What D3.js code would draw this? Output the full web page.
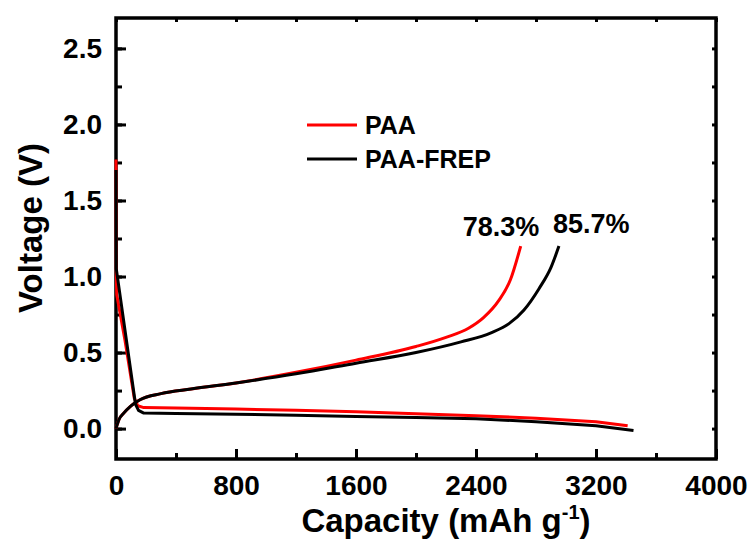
<!DOCTYPE html>
<html>
  <head>
    <meta charset="UTF-8" />
    <title>Voltage profiles</title>
    <style>
      body { margin: 0; background: #fff; }
      svg text { font-family: "Liberation Sans", Arial, sans-serif; font-weight: bold; fill: #000; }
    </style>
  </head>
  <body>
    <svg width="753" height="542"></svg>
    <script src="https://d3js.org/d3.v7.min.js"></script>
    <script>
      // series: [capacity mAh/g, voltage V]
      var paaDischarge = [[0, 1.77], [2, 1.0], [5, 0.88], [60, 0.58], [122, 0.2], [145, 0.15], [185, 0.138],
        [400, 0.136], [800, 0.128], [1200, 0.12], [1600, 0.11], [2000, 0.098], [2400, 0.085],
        [2800, 0.068], [3200, 0.045], [3411, 0.018]];
      var paaCharge = [[0, 0], [20, 0.06], [50, 0.1], [100, 0.15], [160, 0.19], [300, 0.23], [500, 0.26],
        [800, 0.3], [1200, 0.37], [1600, 0.45], [2000, 0.54], [2200, 0.6], [2350, 0.66], [2450, 0.73],
        [2550, 0.84], [2630, 0.98], [2698, 1.2]];
      var frepDischarge = [[0, 1.7], [2, 1.05], [130, 0.16], [150, 0.12], [185, 0.102], [400, 0.1],
        [800, 0.095], [1200, 0.088], [1600, 0.08], [2000, 0.073], [2400, 0.065], [2800, 0.045],
        [3200, 0.018], [3450, -0.012]];
      var frepCharge = [[0, 0], [20, 0.06], [50, 0.1], [100, 0.15], [160, 0.19], [300, 0.23], [500, 0.26],
        [800, 0.3], [1200, 0.36], [1600, 0.43], [2000, 0.5], [2300, 0.57], [2500, 0.63], [2620, 0.69],
        [2720, 0.78], [2820, 0.92], [2900, 1.06], [2953, 1.2]];
      var seriesNames = ["PAA", "PAA-FREP"];
      var seriesColours = ["#ff0000", "#000000"];
      var xTicks = [0, 800, 1600, 2400, 3200, 4000];
      var yTicks = [0.0, 0.5, 1.0, 1.5, 2.0, 2.5];
      var labels = [{ text: "78.3%", at: [2698, 1.2] }, { text: "85.7%", at: [2953, 1.2] }];

      var svg = d3.select("svg");
      var x = d3.scaleLinear().domain([0, 4000]).range([116, 716]);
      var y = d3.scaleLinear().domain([-0.2, 2.7]).range([459, 18]);

      var minorX = d3.range(0, 4001, 400);
      var minorY = d3.range(-0.0, 2.71, 0.25);

      // frame first, curves are drawn over it
      svg.append("rect").attr("x", 116).attr("y", 18).attr("width", 600).attr("height", 441)
        .attr("fill", "none").attr("stroke", "#000").attr("stroke-width", 3.5);

      // inward ticks, bottom/left with labels, top/right mirrored
      svg.append("g").attr("transform", "translate(0,459)")
        .call(d3.axisBottom(x).tickValues(minorX).tickSize(-6).tickFormat(""))
        .call(g => g.select(".domain").remove());
      svg.append("g").attr("transform", "translate(0,459)")
        .call(d3.axisBottom(x).tickValues(xTicks).tickSize(-10).tickPadding(16).tickFormat(d3.format("d")))
        .call(g => g.select(".domain").remove())
        .call(g => g.selectAll("text").attr("font-size", 28).attr("dy", "0.71em"));
      svg.append("g").attr("transform", "translate(116,0)")
        .call(d3.axisLeft(y).tickValues(minorY).tickSize(-6).tickFormat(""))
        .call(g => g.select(".domain").remove());
      svg.append("g").attr("transform", "translate(116,0)")
        .call(d3.axisLeft(y).tickValues(yTicks).tickSize(-10).tickPadding(14).tickFormat(d3.format(".1f")))
        .call(g => g.select(".domain").remove())
        .call(g => g.selectAll("text").attr("font-size", 28));
      svg.append("g").attr("transform", "translate(0,18)")
        .call(d3.axisTop(x).tickValues(minorX).tickSize(-4).tickFormat(""))
        .call(g => g.select(".domain").remove());
      svg.append("g").attr("transform", "translate(716,0)")
        .call(d3.axisRight(y).tickValues(minorY).tickSize(-4).tickFormat(""))
        .call(g => g.select(".domain").remove());
      svg.selectAll(".tick line").attr("stroke", "#000").attr("stroke-width", 3);

      var line = d3.line().x(d => x(d[0])).y(d => y(d[1]));
      var smooth = d3.line().x(d => x(d[0])).y(d => y(d[1])).curve(d3.curveMonotoneX);

      var curves = [
        { data: paaDischarge, gen: line, c: 0 }, { data: paaCharge, gen: smooth, c: 0 },
        { data: frepDischarge, gen: line, c: 1 }, { data: frepCharge, gen: smooth, c: 1 }
      ];
      svg.append("g").selectAll("path").data(curves).enter().append("path")
        .attr("d", d => d.gen(d.data))
        .attr("fill", "none")
        .attr("stroke", d => seriesColours[d.c])
        .attr("stroke-width", 3)
        .attr("stroke-linejoin", "round");

      // legend
      var legend = svg.append("g");
      seriesNames.forEach(function (name, i) {
        var ly = 125 + i * 34;
        legend.append("line").attr("x1", 307).attr("x2", 357).attr("y1", ly).attr("y2", ly)
          .attr("stroke", seriesColours[i]).attr("stroke-width", 3);
        legend.append("text").attr("x", 365).attr("y", ly + 9).attr("font-size", 25).text(name);
      });

      // retention labels
      svg.selectAll(".pct").data(labels).enter().append("text")
        .attr("class", "pct")
        .attr("x", d => x(d.at[0]) - 58 + (d.text === "85.7%" ? 52 : 0))
        .attr("y", (d, i) => y(d.at[1]) - 10 + (i ? -3 : 0))
        .attr("font-size", 27)
        .text(d => d.text);

      // axis titles
      var xt = svg.append("text").attr("x", 446).attr("y", 532).attr("text-anchor", "middle").attr("font-size", 33);
      xt.append("tspan").text("Capacity (mAh g");
      xt.append("tspan").attr("dy", -13).attr("font-size", 20).text("-1");
      xt.append("tspan").attr("dy", 13).text(")");
      svg.append("text").attr("transform", "translate(42,228) rotate(-90)")
        .attr("text-anchor", "middle").attr("font-size", 33).text("Voltage (V)");
    </script>
  </body>
</html>
